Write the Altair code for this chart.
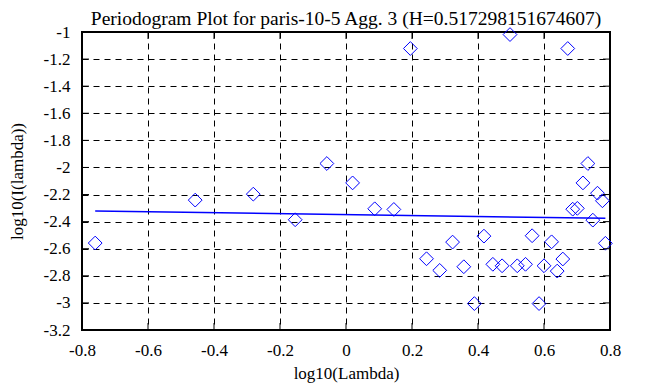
import altair as alt
import pandas as pd

# periodogram points (log10 lambda, log10 I(lambda))
px = [-0.760, -0.457, -0.281, -0.154, -0.058, 0.020, 0.087, 0.145, 0.195, 0.244,
      0.284, 0.323, 0.357, 0.389, 0.418, 0.445, 0.473, 0.497, 0.519, 0.544,
      0.564, 0.585, 0.600, 0.623, 0.640, 0.657, 0.672, 0.687, 0.701, 0.718,
      0.733, 0.748, 0.762, 0.777, 0.786]
py = [-2.558, -2.241, -2.197, -2.386, -1.971, -2.114, -2.305, -2.310, -1.122, -2.674,
      -2.760, -2.551, -2.733, -3.005, -2.507, -2.715, -2.726, -1.019, -2.726, -2.715,
      -2.504, -3.005, -2.726, -2.549, -2.765, -2.676, -1.122, -2.308, -2.302, -2.114,
      -1.971, -2.389, -2.190, -2.246, -2.560]

# fitted line
fit_x = [-0.760, 0.786]
fit_y = [-2.322, -2.375]

x_ticks = [-0.8, -0.6, -0.4, -0.2, 0, 0.2, 0.4, 0.6, 0.8]
y_ticks = [-1, -1.2, -1.4, -1.6, -1.8, -2, -2.2, -2.4, -2.6, -2.8, -3, -3.2]

title = "Periodogram Plot for paris-10-5 Agg. 3 (H=0.517298151674607)"
x_title = "log10(Lambda)"
y_title = "log10(I(lambda))"

W, H = 528, 298
FONT = "'Liberation Serif', 'Times New Roman', Times, serif"
BLUE = "#0000ff"
TL = 7

pts = pd.DataFrame({"lx": px, "ly": py})
fit = pd.DataFrame({"lx": fit_x, "ly": fit_y})
xt = pd.DataFrame({"lx": x_ticks})
yt = pd.DataFrame({"ly": y_ticks})
tt = pd.DataFrame({"t": [title]})

xscale = alt.Scale(domain=[-0.8, 0.8], nice=False, zero=False)
yscale = alt.Scale(domain=[-3.2, -1], nice=False, zero=False)

xaxis = alt.Axis(
    values=x_ticks, title=x_title, grid=True, ticks=False, domain=False,
    labelExpr="'' + datum.value", labelFlush=False, labelOverlap=False,
    labelBaseline="middle", labelPadding=20,
    titleY=43, titleBaseline="middle",
)
yaxis = alt.Axis(
    values=y_ticks, title=y_title, grid=True, ticks=False, domain=False,
    labelExpr="'' + datum.value", labelOverlap=False, labelBaseline="middle",
    labelPadding=12, titleX=-65, titleY=H / 2, titleAngle=-90,
    titleBaseline="middle", titleAlign="center",
)

points = alt.Chart(pts).mark_point(
    shape="diamond", filled=False, size=190, color=BLUE, strokeWidth=1, opacity=1
).encode(
    x=alt.X("lx:Q", scale=xscale, axis=xaxis),
    y=alt.Y("ly:Q", scale=yscale, axis=yaxis),
)

line = alt.Chart(fit).mark_line(color=BLUE, strokeWidth=1.5).encode(
    x=alt.X("lx:Q", scale=xscale, axis=xaxis),
    y=alt.Y("ly:Q", scale=yscale, axis=yaxis),
)

tick_style = dict(color="black", strokeWidth=1)
left_t = alt.Chart(yt).mark_rule(**tick_style).encode(
    y=alt.Y("ly:Q", scale=yscale, axis=yaxis), x=alt.value(0), x2=alt.value(TL))
right_t = alt.Chart(yt).mark_rule(**tick_style).encode(
    y=alt.Y("ly:Q", scale=yscale, axis=yaxis), x=alt.value(W - TL), x2=alt.value(W))
bottom_t = alt.Chart(xt).mark_rule(**tick_style).encode(
    x=alt.X("lx:Q", scale=xscale, axis=xaxis), y=alt.value(H), y2=alt.value(H - TL))
top_t = alt.Chart(xt).mark_rule(**tick_style).encode(
    x=alt.X("lx:Q", scale=xscale, axis=xaxis), y=alt.value(0), y2=alt.value(TL))

title_t = alt.Chart(tt).mark_text(
    font=FONT, fontSize=19.5, color="black", align="center", baseline="alphabetic"
).encode(x=alt.value(W / 2), y=alt.value(-7), text="t:N")

chart = alt.layer(points, line, left_t, right_t, bottom_t, top_t, title_t).properties(
    width=W, height=H,
    background="white",
    autosize=alt.AutoSizeParams(type="none"),
    padding={"left": 74, "top": 24, "right": 20, "bottom": 54},
).configure_view(
    stroke="black", strokeWidth=2, fill="white"
).configure_axis(
    gridColor="black", gridOpacity=1, gridWidth=1, gridDash=[6, 5],
    labelFont=FONT, labelFontSize=17, labelColor="black",
    titleFont=FONT, titleFontSize=17, titleFontWeight="normal", titleColor="black",
)

chart.save("out.html", embed_options={"renderer": "svg", "actions": False})
